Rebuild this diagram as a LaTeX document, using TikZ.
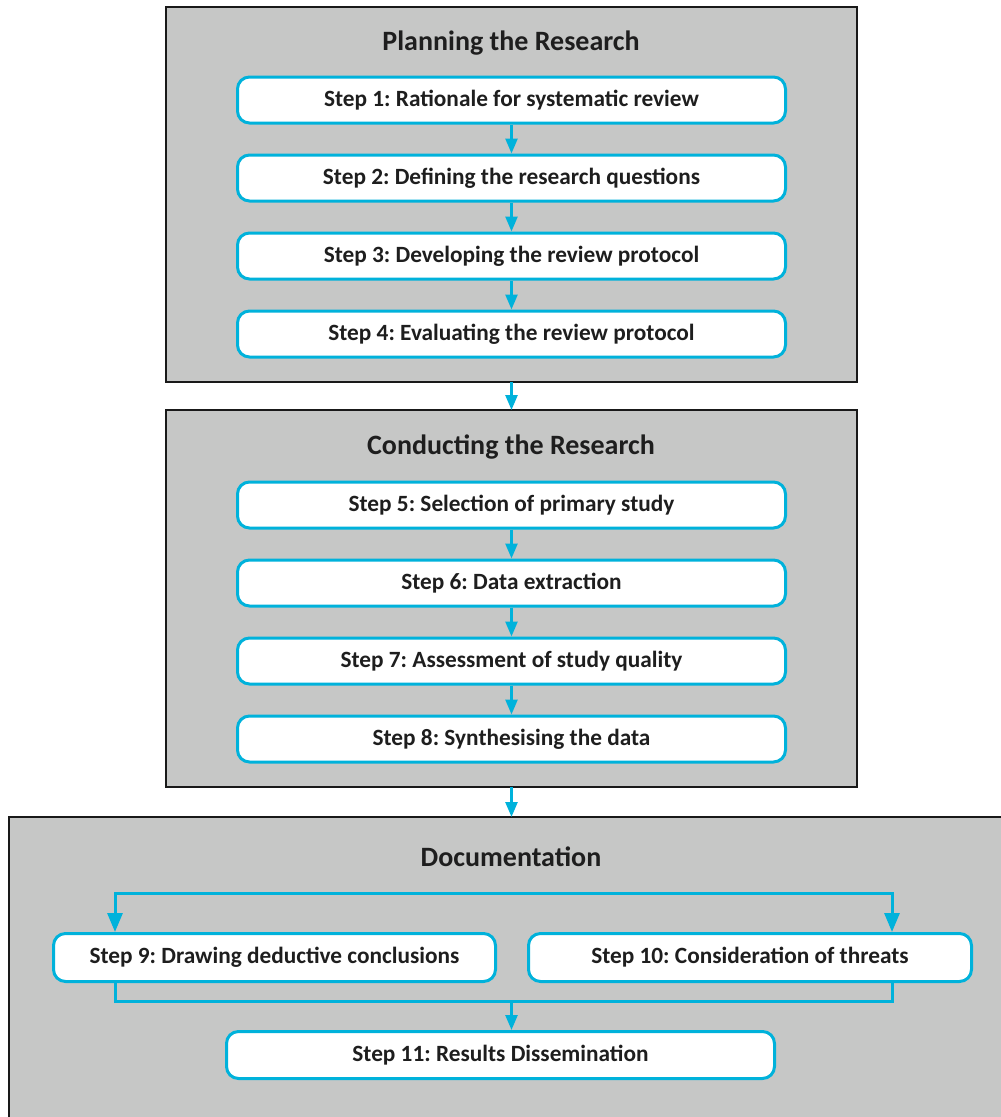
\documentclass[tikz,border=0pt]{standalone}
\usepackage{fontspec}
\setmainfont{Carlito}
\usetikzlibrary{arrows.meta}
\definecolor{cy}{HTML}{00B2DB}
\definecolor{pg}{HTML}{C6C7C6}
\definecolor{tx}{HTML}{1E1E1E}
\begin{document}
\frenchspacing
\begin{tikzpicture}[x=1pt,y=-1pt,
 panel/.style={draw=black!90,line width=1.8pt,fill=pg,anchor=north west,inner sep=0,outer sep=0},
 stepbox/.style={draw=cy,line width=3pt,fill=white,rounded corners=12pt,minimum height=46pt,minimum width=548pt,font=\bfseries\fontsize{23.3}{27}\selectfont,text=tx,inner sep=0},
 ttl/.style={font=\bfseries\fontsize{28}{32}\selectfont,text=tx},
 arr/.style={draw=cy,line width=2.5pt,-{Triangle[length=15pt,width=12pt]}},
 bigarr/.style={draw=cy,line width=3pt,-{Triangle[length=19pt,width=15pt]}},
 ln/.style={draw=cy,line width=3pt}]
\clip (0,0) rectangle (1001,1117);
\fill[white] (0,0) rectangle (1001,1117);
% panels
\node[panel,minimum width=691pt,minimum height=375pt] (p1) at (166,7) {};
\node[panel,minimum width=691pt,minimum height=377pt] (p2) at (166,410) {};
\node[panel,minimum width=1020pt,minimum height=330pt] (p3) at (9,817) {};
% titles
\node[ttl] (t1) at (511,43) {Planning the Research};
\node[ttl] (t2) at (511,447) {Conducting the Research};
\node[ttl] (t3) at (511,857) {Documentation};
% steps
\node[stepbox] (s1) at (511.5,100) {Step 1: Rationale for systematic review};
\node[stepbox] (s2) at (511.5,178) {Step 2: Defining the research questions};
\node[stepbox] (s3) at (511.5,256) {Step 3: Developing the review protocol};
\node[stepbox] (s4) at (511.5,334) {Step 4: Evaluating the review protocol};
\node[stepbox] (s5) at (511.5,505) {Step 5: Selection of primary study};
\node[stepbox] (s6) at (511.5,583) {Step 6: Data extraction};
\node[stepbox] (s7) at (511.5,661) {Step 7: Assessment of study quality};
\node[stepbox] (s8) at (511.5,739) {Step 8: Synthesising the data};
\node[stepbox,minimum width=442pt,minimum height=48pt] (s9) at (274.5,957.5) {Step 9: Drawing deductive conclusions};
\node[stepbox,minimum width=443pt,minimum height=48pt] (s10) at (750,957.5) {Step 10: Consideration of threats};
\node[stepbox,minimum width=548pt,minimum height=47pt] (s11) at (500.5,1055) {Step 11: Results Dissemination};
% arrows
\draw[arr] (s1) -- (s2);
\draw[arr] (s2) -- (s3);
\draw[arr] (s3) -- (s4);
\draw[arr] (p1.south) -- (p2.north);
\draw[arr] (s5) -- (s6);
\draw[arr] (s6) -- (s7);
\draw[arr] (s7) -- (s8);
\draw[arr] (p2.south) -- (p2.south |- p3.north);
% documentation connectors
\coordinate (a9) at (115,893);
\coordinate (a10) at (892,893);
\coordinate (b9) at (115,1001);
\coordinate (b10) at (892,1001);
\coordinate (m) at (511.5,1001);
\draw[ln,line cap=rect] (a9) -- (a10);
\draw[bigarr] (a9) -- (a9 |- s9.north);
\draw[bigarr] (a10) -- (a10 |- s10.north);
\draw[ln,line cap=rect] (s9.south -| b9) -- (b9) -- (b10) -- (s10.south -| b10);
\draw[arr] (m) -- (m |- s11.north);
\end{tikzpicture}
\end{document}
